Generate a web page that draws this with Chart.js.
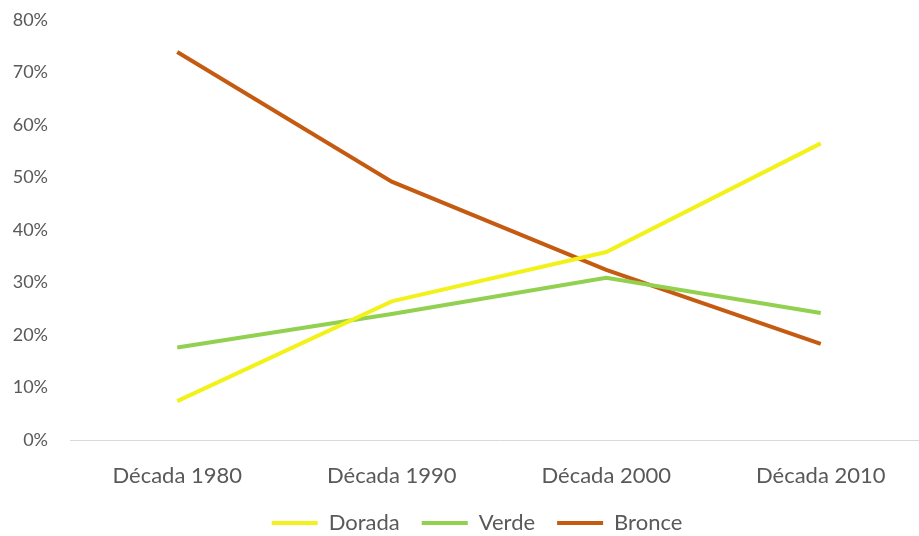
<!DOCTYPE html>
<html lang="es">
  <head>
    <meta charset="UTF-8" />
    <title>Medallas por década</title>
    <style>
      body {
        margin: 0;
        background: #ffffff;
        overflow: hidden;
      }
      #wrap {
        width: 928px;
        height: 544px;
      }
    </style>
    <script src="https://cdn.jsdelivr.net/npm/chart.js"></script>
  </head>
  <body>
    <div id="wrap">
      <canvas id="chart"></canvas>
    </div>
    <script>
      // datos (porcentaje por década)
      const decadas = ["Década 1980", "Década 1990", "Década 2000", "Década 2010"];
      const dorada = [7.4, 26.4, 35.8, 56.5];
      const verde = [17.6, 24.0, 30.9, 24.2];
      const bronce = [73.9, 49.2, 32.4, 18.3];

      const gris = "#595959";

      const serie = (label, data, color) => ({
        label: label,
        data: data,
        borderColor: color,
        backgroundColor: color,
        borderWidth: 4,
        pointRadius: 0,
        pointStyle: "line",
        tension: 0,
      });

      // corre la leyenda un poco a la derecha
      const moverLeyenda = {
        id: "moverLeyenda",
        afterLayout(chart) {
          chart.legend.left += 13;
          chart.legend.right += 13;
        },
      };

      const ctx = document.getElementById("chart").getContext("2d");
      const chart = new Chart(ctx, {
        type: "line",
        data: {
          labels: decadas,
          datasets: [
            serie("Dorada", dorada, "#F2F21A"),
            serie("Verde", verde, "#92D050"),
            serie("Bronce", bronce, "#C55A11"),
          ],
        },
        plugins: [moverLeyenda],
        options: {
          responsive: true,
          maintainAspectRatio: false,
          animation: false,
          layout: { padding: { top: 20, right: 0, bottom: 0, left: 0 } },
          plugins: {
            tooltip: { enabled: false },
            legend: {
              position: "bottom",
              labels: {
                usePointStyle: true,
                pointStyleWidth: 46,
                boxHeight: 4,
                padding: 22,
                color: gris,
                font: { family: "Lato", size: 22 },
              },
            },
          },
          scales: {
            x: {
              offset: true,
              grid: { display: false, drawTicks: false },
              border: { display: true, color: "#D9D9D9", width: 1 },
              ticks: {
                color: gris,
                padding: 23,
                maxRotation: 0,
                font: { family: "Lato", size: 22 },
              },
              afterFit: (scale) => {
                scale.height = 50;
              },
            },
            y: {
              min: 0,
              max: 80,
              grid: { display: false, drawTicks: false },
              border: { display: false },
              ticks: {
                stepSize: 10,
                color: gris,
                padding: 22,
                font: { family: "Lato", size: 18 },
                callback: (v) => v + "%",
              },
              afterFit: (scale) => {
                scale.width = 70;
                scale.paddingTop = 0;
                scale.paddingBottom = 0;
              },
            },
          },
        },
      });
    </script>
  </body>
</html>
